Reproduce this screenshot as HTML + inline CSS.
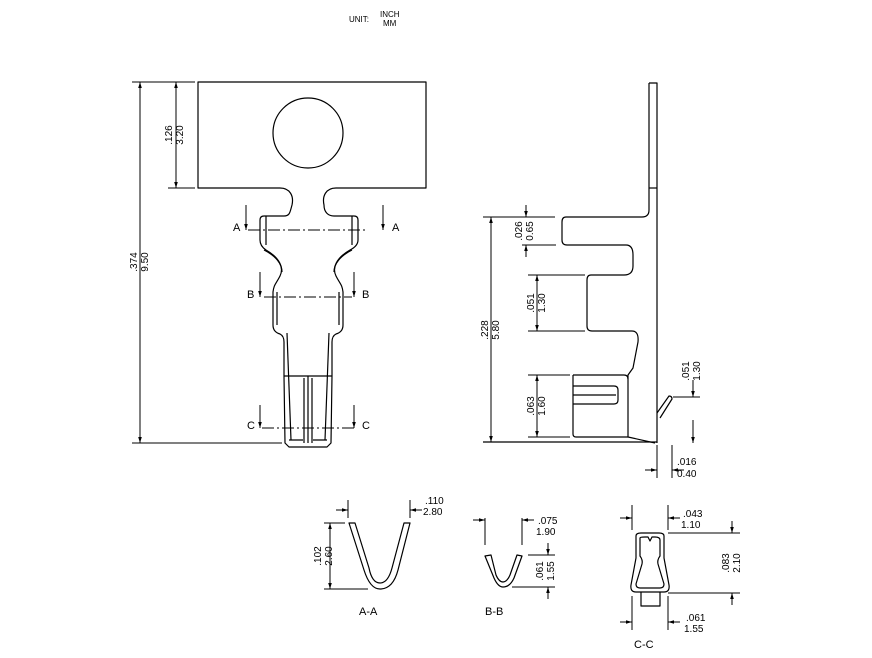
<!DOCTYPE html>
<html><head><meta charset="utf-8"><style>
html,body{margin:0;padding:0;background:#fff}
svg{display:block}
text{font-family:"Liberation Sans",sans-serif;fill:#000}
</style></head><body>
<svg width="872" height="658" viewBox="0 0 872 658" xmlns="http://www.w3.org/2000/svg">
<defs>
<marker id="ar" viewBox="0 0 10 10" refX="10" refY="5" markerWidth="6" markerHeight="6" orient="auto-start-reverse"><path d="M0,2 L10,5 L0,8 z" fill="#000"/></marker>
</defs>
<text x="349" y="22" font-size="8">UNIT:</text>
<text x="380" y="17" font-size="8">INCH</text>
<text x="383" y="26" font-size="8">MM</text>

<g fill="none" stroke="#000" stroke-width="1.2" stroke-linejoin="round">
<!-- front view -->
<path d="M198,82 H426 V188 H336 C326,188 322,196 324,205 C324,212 328,216 334,216 H354 Q358,216 358,220 V240 Q358,246 350,250 C336,258 332,268 336,276 C340,284 342,284 343,292 V325 Q343,332 336,334 Q332,336 332,342 V376 L331,443 L327,447 H289 L285,443 L284,376 V342 Q284,336 280,334 Q273,332 273,325 V292 C274,284 276,284 280,276 C284,268 280,258 266,250 Q260,246 260,240 V220 Q260,216 264,216 H284 C290,216 290,212 292,205 C294,196 290,188 280,188 H198 Z"/>
<circle cx="308" cy="133" r="35"/>
<path d="M266,216 V245 M352,216 V245"/>
<path d="M264,250 C276,256 282,264 282,272 M352,250 C340,256 334,264 334,272"/>
<path d="M277,292 V325 M339,292 V325"/>
<path d="M287,333 L291,440 M329,333 L325,440"/>
<path d="M284,376 H332 M308,376 V443 M304,378 V443 M312,378 V443"/>
<path d="M289,440 H303 M313,440 H327"/>
<!-- section lines -->
<path d="M248,230 H368 M264,297 H352 M262,428 H354" stroke-width="0.9" stroke-dasharray="12,3,2,3"/>
<g stroke-width="1" marker-end="url(#ar)">
<path d="M246,205 V230"/><path d="M383,205 V230"/>
<path d="M260,272 V297"/><path d="M354,272 V297"/>
<path d="M260,405 V428"/><path d="M354,405 V428"/>
</g>
<!-- left dims -->
<path d="M132,82 H195 M132,443 H282 M168,188 H195" stroke-width="1"/>
<g stroke-width="1" marker-start="url(#ar)" marker-end="url(#ar)">
<path d="M140,82 V443"/><path d="M176,82 V188"/>
</g>

<!-- side view -->
<path d="M649,83 H657 V443 M649,83 V210 Q649,217 642,217 H566 Q562,217 562,222 V240 Q562,245 567,245 H626 Q633,245 633,255 V266 Q633,275 624,275 H591 Q587,275 587,280 V326 Q587,331 592,331 H632 Q639,331 638,342 L633,368 L628,375 V437 L655,443"/>
<path d="M649,188 H657"/>
<path d="M573,375 H624 Q628,375 628,379 M573,375 V434 Q573,437 576,437 H628"/>
<path d="M573,386 H614 Q618,386 618,390 V400 Q618,404 614,404 H573 M573,395 H616"/>
<path d="M657,413 L669,396 Q672,396 672,399 L660,418"/>
<path d="M483,442 H657" />
<path d="M483,217 H555 M522,245 H556 M528,275 H585 M528,331 H585 M528,375 H570 M528,437 H570 M673,397 H700 M657,445 V478 M672,445 V478" stroke-width="1"/>
<g stroke-width="1" marker-start="url(#ar)" marker-end="url(#ar)">
<path d="M491,217 V442"/><path d="M537,275 V331"/><path d="M537,375 V437"/>
</g>
<g stroke-width="1" marker-end="url(#ar)">
<path d="M526,205 V217"/><path d="M526,257 V245"/><path d="M693,380 V397"/><path d="M693,420 V443"/><path d="M645,470 H657"/><path d="M684,470 H672"/>
</g>

<!-- A-A -->
<path d="M349,523 L364,570 Q370,589 380,589 Q393,589 398,570 L410,523 L404,523 L392,568 Q388,583 380,583 Q372,583 369,568 L355,523 Z"/>
<path d="M348,500 V518 M410,500 V518 M324,523 H345 M324,589 H368" stroke-width="1"/>
<g stroke-width="1" marker-end="url(#ar)"><path d="M336,510 H348"/><path d="M422,510 H410"/></g>
<path d="M330,523 V589" stroke-width="1" marker-start="url(#ar)" marker-end="url(#ar)"/>

<!-- B-B -->
<path d="M485,556 L494,578 Q498,587 503,587 Q510,587 514,578 L522,556 L517,555 L510,575 Q507,582 503,582 Q499,582 496,575 L491,555 Z"/>
<path d="M485,518 V545 M522,518 V545 M528,555 H555 M512,587 H555" stroke-width="1"/>
<g stroke-width="1" marker-end="url(#ar)"><path d="M473,520 H485"/><path d="M534,520 H522"/><path d="M548,543 V555"/><path d="M548,599 V587"/></g>

<!-- C-C -->
<path d="M636,536 Q636,533 641,533 H659 Q664,533 664,536 V558 L669,585 Q670,592 664,592 H636 Q630,592 631,585 L636,558 Z"/>
<path d="M640,538 Q640,537 645,537 H648 L650,541 L652,537 H655 Q660,537 660,540 V556 Q657,560 658,564 L664,584 Q664,588 660,588 H640 Q636,588 636,584 L642,564 Q643,560 640,556 Z"/>
<path d="M641,592 V606 H660 V592"/>
<path d="M632,505 V530 M668,505 V530 M668,533 H740 M668,593 H740 M632,596 V630 M668,596 V630" stroke-width="1"/>
<g stroke-width="1" marker-end="url(#ar)"><path d="M620,518 H632"/><path d="M680,518 H668"/><path d="M732,521 V533"/><path d="M732,605 V593"/><path d="M620,622 H632"/><path d="M680,622 H668"/></g>
</g>

<g font-size="11">
<text x="233" y="231">A</text><text x="392" y="231">A</text>
<text x="247" y="298">B</text><text x="362" y="298">B</text>
<text x="247" y="429">C</text><text x="362" y="429">C</text>
<text x="359" y="615">A-A</text>
<text x="485" y="615">B-B</text>
<text x="634" y="648">C-C</text>
</g>
<g font-size="10">
<text transform="translate(137,262) rotate(-90)" text-anchor="middle">.374</text>
<text transform="translate(148,262) rotate(-90)" text-anchor="middle">9.50</text>
<text transform="translate(172,135) rotate(-90)" text-anchor="middle">.126</text>
<text transform="translate(183,135) rotate(-90)" text-anchor="middle">3.20</text>
<text transform="translate(488,330) rotate(-90)" text-anchor="middle">.228</text>
<text transform="translate(499,330) rotate(-90)" text-anchor="middle">5.80</text>
<text transform="translate(522,231) rotate(-90)" text-anchor="middle">.026</text>
<text transform="translate(533,231) rotate(-90)" text-anchor="middle">0.65</text>
<text transform="translate(534,303) rotate(-90)" text-anchor="middle">.051</text>
<text transform="translate(545,303) rotate(-90)" text-anchor="middle">1.30</text>
<text transform="translate(534,406) rotate(-90)" text-anchor="middle">.063</text>
<text transform="translate(545,406) rotate(-90)" text-anchor="middle">1.60</text>
<text transform="translate(689,371) rotate(-90)" text-anchor="middle">.051</text>
<text transform="translate(700,371) rotate(-90)" text-anchor="middle">1.30</text>
<text x="677" y="465">.016</text><text x="677" y="477">0.40</text>
<text x="425" y="504">.110</text><text x="423" y="515">2.80</text>
<text transform="translate(321,556) rotate(-90)" text-anchor="middle">.102</text>
<text transform="translate(332,556) rotate(-90)" text-anchor="middle">2.60</text>
<text x="538" y="524">.075</text><text x="536" y="535">1.90</text>
<text transform="translate(543,571) rotate(-90)" text-anchor="middle">.061</text>
<text transform="translate(554,571) rotate(-90)" text-anchor="middle">1.55</text>
<text x="683" y="517">.043</text><text x="681" y="528">1.10</text>
<text transform="translate(729,563) rotate(-90)" text-anchor="middle">.083</text>
<text transform="translate(740,563) rotate(-90)" text-anchor="middle">2.10</text>
<text x="686" y="621">.061</text><text x="684" y="632">1.55</text>
</g>
</svg>
</body></html>
